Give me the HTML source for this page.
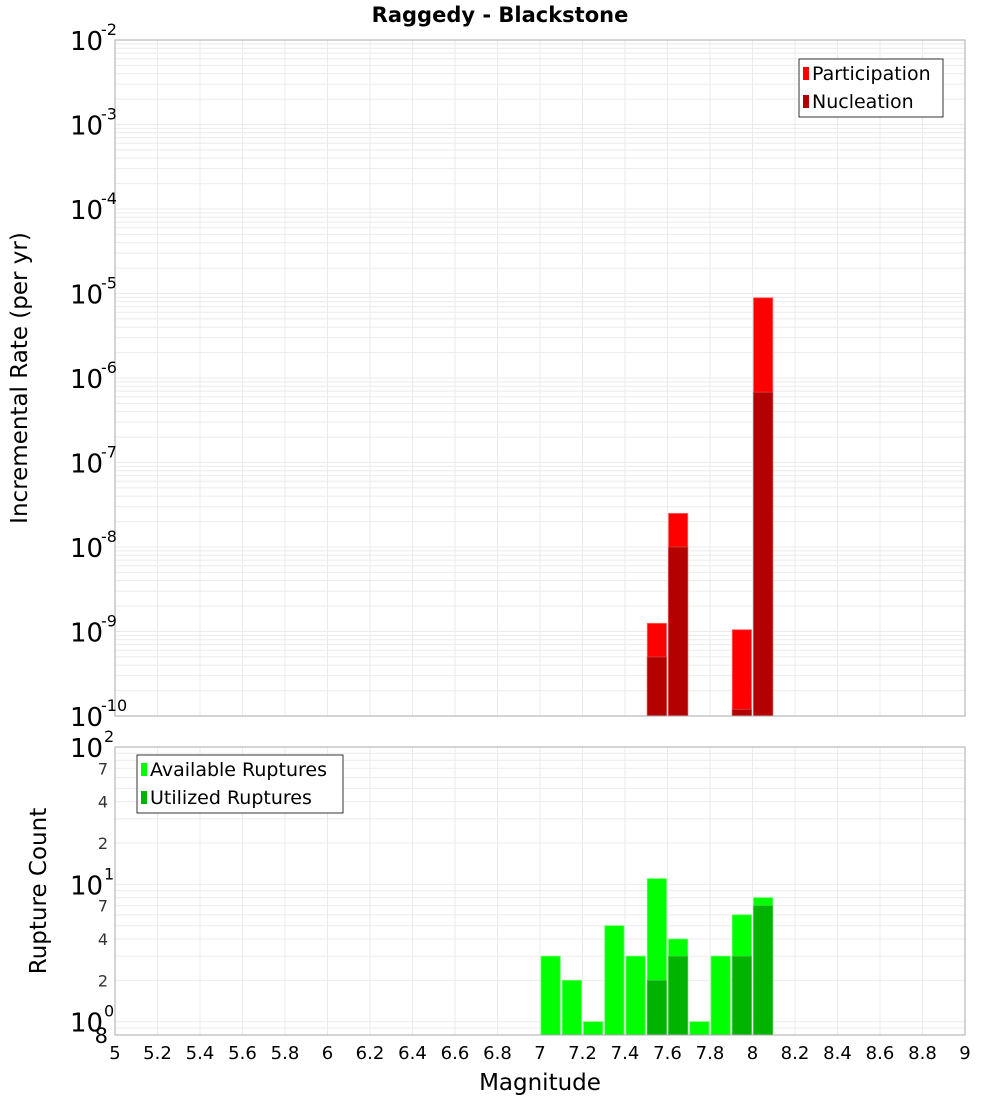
<!DOCTYPE html>
<html><head><meta charset="utf-8"><style>
body{margin:0;background:#fff;}
svg text{font-family:"DejaVu Sans","Liberation Sans",sans-serif;}
</style></head><body>
<svg id="c" width="1000" height="1100" xmlns="http://www.w3.org/2000/svg"></svg>
<script>
const binCenters=[7.05,7.15,7.25,7.35,7.45,7.55,7.65,7.75,7.85,7.95,8.05];
const topMags=[7.55,7.65,7.95,8.05];
const participation=[1.25e-9,2.5e-8,1.05e-9,8.9e-6];
const nucleation=[5e-10,1e-8,1.2e-10,6.8e-7];
const available=[3,2,1,5,3,11,4,1,3,6,8];
const utilizedMags=[7.55,7.65,7.95,8.05];
const utilized=[2,3,3,7];
const xTicks=[5,5.2,5.4,5.6,5.8,6,6.2,6.4,6.6,6.8,7,7.2,7.4,7.6,7.8,8,8.2,8.4,8.6,8.8,9];

const svg=document.getElementById('c');const NS='http://www.w3.org/2000/svg';
function el(t,a,txt){const e=document.createElementNS(NS,t);for(const k in a)e.setAttribute(k,a[k]);if(txt!==undefined)e.textContent=txt;svg.appendChild(e);return e;}
const X0=115,X1=965;
const xs=m=>X0+(m-5)/4*(X1-X0);
const T0=40,T1=716; const yt=v=>T0+(-2-Math.log10(v))/8*(T1-T0);
const B0=747,B1=1035; const bLogMin=Math.log10(0.8); const yb=v=>B0+(2-Math.log10(v))/(2-bLogMin)*(B1-B0);
const bw=0.1/4*(X1-X0);

function grid(y0,y1,ymap,vals,name){
  let g;
  for(const t of xTicks){g=el('line',{x1:xs(t),x2:xs(t),y1:y0,y2:y1,stroke:'#ebebeb','stroke-width':1});}
  for(const v of vals){const y=ymap(v);if(y<y0||y>y1)continue;g=el('line',{x1:X0,x2:X1,y1:y,y2:y,stroke:'#ebebeb','stroke-width':1});}
}
let tv=[];for(let e=-10;e<-2;e++)for(let k=1;k<10;k++)tv.push(k*Math.pow(10,e));
grid(T0,T1,yt,tv,'top');
let bv=[0.8,0.9];for(let e=0;e<2;e++)for(let k=1;k<10;k++)bv.push(k*Math.pow(10,e));
grid(B0,B1,yb,bv,'bottom');

topMags.forEach((m,i)=>{
  let r=el('rect',{x:xs(m)-bw/2+1,y:yt(participation[i]),width:bw-2,height:T1-yt(participation[i]),fill:'#ff0000',stroke:'#ff6666','stroke-width':0.8});
  
  r=el('rect',{x:xs(m)-bw/2+1,y:yt(nucleation[i]),width:bw-2,height:T1-yt(nucleation[i]),fill:'#b30000',stroke:'#d04444','stroke-width':0.8});
  
});
binCenters.forEach((m,i)=>{
  const r=el('rect',{x:xs(m)-bw/2+1,y:yb(available[i]),width:bw-2,height:B1-yb(available[i]),fill:'#00ff00',stroke:'#66ff66','stroke-width':0.8});
  
});
utilizedMags.forEach((m,i)=>{
  const r=el('rect',{x:xs(m)-bw/2+1,y:yb(utilized[i]),width:bw-2,height:B1-yb(utilized[i]),fill:'#00b300',stroke:'#44cc44','stroke-width':0.8});
  
});
let f=el('rect',{x:X0,y:T0,width:X1-X0,height:T1-T0,fill:'none',stroke:'#aaa'});
f=el('rect',{x:X0,y:B0,width:X1-X0,height:B1-B0,fill:'none',stroke:'#aaa'});

for(let e=-10;e<=-2;e++){
  const y=yt(Math.pow(10,e));
  const t=el('text',{x:70,y:y+10,'font-size':26,fill:'#000'},'10');
  const s=el('text',{x:101,y:y-5,'font-size':16,fill:'#000'},String(e));
}
[[100,'2'],[10,'1'],[1,'0']].forEach(([v,ex])=>{
  const y=yb(v);
  const t=el('text',{x:70,y:y+10,'font-size':26,fill:'#000'},'10');
  const s=el('text',{x:104,y:y-5,'font-size':16,fill:'#000'},ex);
});
[[7,'7'],[4,'4'],[2,'2'],[70,'7'],[40,'4'],[20,'2']].forEach(([v,l])=>{
  const t=el('text',{x:108,y:yb(v)+6,'font-size':16,'text-anchor':'end',fill:'#333'},l);
});
let t8=el('text',{x:108,y:1043,'font-size':21,'text-anchor':'end',fill:'#000'},'8');
xTicks.forEach(v=>{
  const t=el('text',{x:xs(v),y:1059,'font-size':18,'text-anchor':'middle',fill:'#000'},String(v));
  
});
let tt=el('text',{x:540,y:1090,'font-size':23,'text-anchor':'middle'},'Magnitude');
tt=el('text',{x:500,y:22,'font-size':21,'font-weight':'bold','text-anchor':'middle'},'Raggedy - Blackstone');
tt=el('text',{x:0,y:0,'font-size':23,'text-anchor':'middle',transform:'translate(27,378) rotate(-90)'},'Incremental Rate (per yr)');
tt=el('text',{x:0,y:0,'font-size':23,'text-anchor':'middle',transform:'translate(46,891) rotate(-90)'},'Rupture Count');
function legend(x,y,w,items,name){
  const g=el('rect',{x:x,y:y,width:w,height:58,fill:'#fff',stroke:'#333'});
  items.forEach(([c,l],i)=>{
    const r=el('rect',{x:x+4,y:y+8+i*28,width:6,height:13,fill:c});
    const t=el('text',{x:x+13,y:y+21+i*28,'font-size':19},l);
  });
}
legend(799,59,144,[['#ff0000','Participation'],['#b30000','Nucleation']],'top-legend');
legend(137,755,206,[['#00ff00','Available Ruptures'],['#00b300','Utilized Ruptures']],'bottom-legend');
</script>
</body></html>
